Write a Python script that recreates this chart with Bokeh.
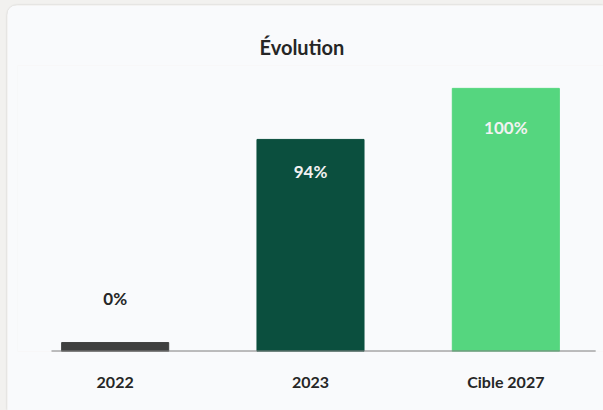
from bokeh.plotting import figure
from bokeh.layouts import column
from bokeh.models import ColumnDataSource, FactorRange, Range1d
from bokeh.embed import file_html
from bokeh.resources import INLINE
from bokeh.core.properties import value
from bokeh.transform import dodge

# ---- data ----
categories = ["2022", "2023", "Cible 2027"]
bar_heights = [3.4, 80.6, 100.0]          # drawn bar heights (relative scale)
value_labels = ["0%", "94%", "100%"]       # printed labels
bar_colors = ["#3f3f3f", "#0b4f3e", "#55d67f"]
label_colors = ["#262626", "#f2f2f2", "#f2f2f2"]

FONT = "Lato"
W, H = 596, 405
LEFT = 10

src = ColumnDataSource(dict(
    x=categories, top=bar_heights, text=value_labels, color=bar_colors,
    tcolor=label_colors,
    ly=[v * 0.85 if v >= 10 else v for v in bar_heights],
    yoff=[-44 if v < 10 else 0 for v in bar_heights],
))

xr = FactorRange(*categories, range_padding=0)
p = figure(
    width=W, height=H, output_backend="svg", toolbar_location=None,
    x_range=xr,
    y_range=Range1d(0, 108.7),
    min_border_left=LEFT, min_border_right=0, min_border_bottom=59, min_border_top=60,
)
p.styles = {"border-radius": "10px 0 0 0", "overflow": "hidden",
            "box-shadow": "0 0 2px rgba(0,0,0,0.18)"}

p.title.text = "Évolution"
p.title.align = "left"
p.title.offset = 242
p.title.text_font = FONT
p.title.text_font_size = "20px"
p.title.text_font_style = "bold"
p.title.text_color = "#262626"
p.title.standoff = 13

p.background_fill_color = "#f9fafc"
p.border_fill_color = "#f9fafc"
p.outline_line_color = None
p.grid.grid_line_color = None
p.yaxis.visible = False

ax = p.xaxis[0]
ax.axis_line_color = None
ax.major_tick_line_color = None
ax.minor_tick_line_color = None
ax.major_tick_out = 0
ax.major_label_standoff = 20
ax.major_label_text_font = FONT
ax.major_label_text_font_size = "16px"
ax.major_label_text_font_style = "bold"
ax.major_label_text_color = "#262626"

p.vbar(x="x", top="top", bottom=0, width=0.548, color="color", source=src)

# baseline
base = ColumnDataSource(dict(a=[categories[0]], b=[categories[-1]], y=[0]))
p.segment(x0=dodge("a", -0.326, range=xr), x1=dodge("b", 0.46, range=xr),
          y0="y", y1="y", source=base, line_color="#7f7f7f", line_width=2)

p.text(x="x", y="ly", text="text", y_offset="yoff", text_color="tcolor",
       text_align="center", text_baseline="middle",
       text_font=value(FONT), text_font_size="17px", text_font_style="bold",
       source=src)

page = column(p, styles={"background-color": "#f2f1ef",
                         "padding": "5px 0 0 7px"})

open("out.html", "w").write(file_html(page, INLINE))
